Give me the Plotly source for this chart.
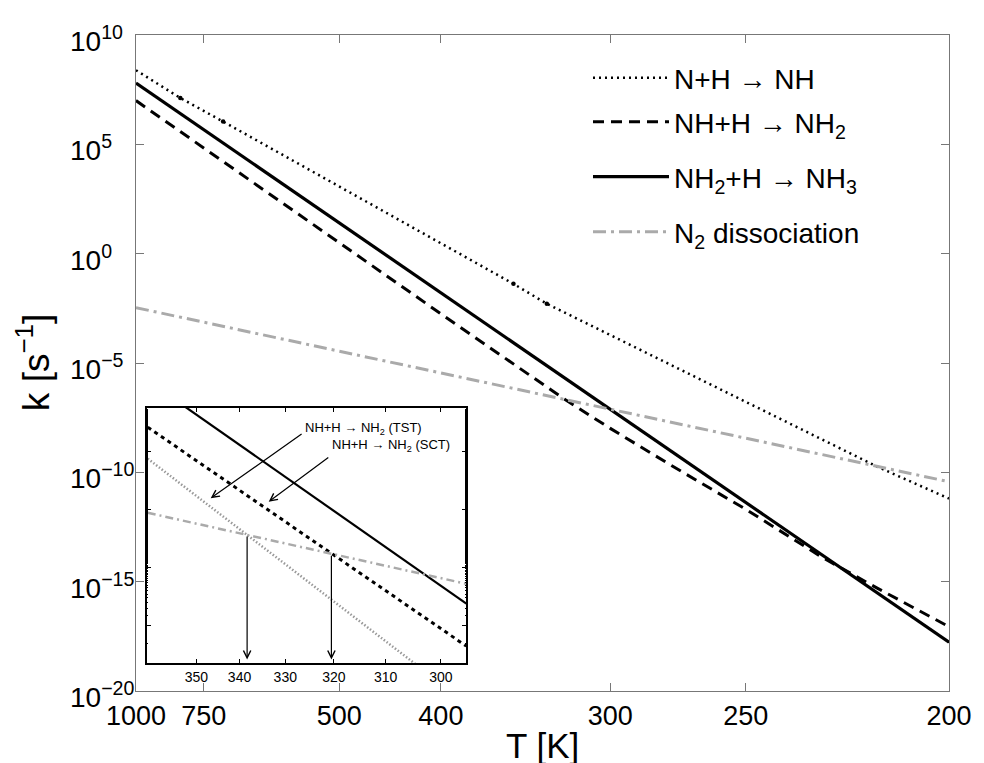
import numpy as np
import plotly.graph_objects as go

# ---------------- main panel data (T in K, log10 k in s^-1) ----------------
T_NH = [1000, 821, 700, 500, 400, 350, 331, 300, 250, 215, 200]
logk_NH = [8.39, 7.12, 6.04, 3.07, 0.47, -1.38, -2.29, -3.72, -6.79, -9.76, -11.2]

T_NH2 = [1000, 750, 500, 400, 322, 300, 275, 250, 228.5, 215, 200]
logk_NH2 = [7.0, 4.83, 0.5, -2.75, -6.64, -7.99, -9.70, -11.69, -13.89, -15.32, -17.06]

T_NH3 = [1000, 750, 500, 400, 300, 250, 200]
logk_NH3 = [7.80, 5.67, 1.41, -1.79, -7.12, -11.38, -17.77]

T_N2 = [1000, 750, 500, 400, 300, 250, 200]
logk_N2 = [-2.47, -3.13, -4.46, -5.46, -7.11, -8.44, -10.43]

T_dots = [821, 700, 350, 331]
logk_dots = [7.12, 6.04, -1.38, -2.29]

# ---------------- inset data ----------------
T_in = [362, 340, 320, 300, 295.6]
logk_in_NH3 = [-3.79, -4.89, -6.03, -7.31, -7.62]
logk_in_SCT = [-4.59, -5.67, -6.79, -8.04, -8.35]
logk_in_TST = [-5.13, -6.34, -7.59, -9.00, -9.33]
logk_in_N2 = [-6.06, -6.41, -6.77, -7.18, -7.28]

T_cross = [338.3, 320.5]
logk_cross = [-6.44, -6.77]

# ---------------- tick labels ----------------
T_ticks = [1000, 750, 500, 400, 300, 250, 200]
T_ticks_in = [350, 340, 330, 320, 310, 300]
y_exps = [10, 5, 0, -5, -10, -15, -20]

def xm(T):
    return 1000.0 / np.asarray(T, dtype=float)

def kv(lk):
    return 10.0 ** np.asarray(lk, dtype=float)

FONT = "Liberation Sans, Arial, Helvetica, sans-serif"
GRAY_AX = "#777777"

fig = go.Figure()

# main traces (each in its own legend box so rows can be placed like the original)
fig.add_trace(go.Scatter(x=xm(T_NH), y=kv(logk_NH), mode="lines", name="N+H → NH",
                         line=dict(color="black", width=2.5, dash="2px,4px"), legend="legend"))
fig.add_trace(go.Scatter(x=xm(T_NH2), y=kv(logk_NH2), mode="lines", name="NH+H → NH<sub>2</sub>",
                         line=dict(color="black", width=3, dash="11px,7px"), legend="legend2"))
fig.add_trace(go.Scatter(x=xm(T_NH3), y=kv(logk_NH3), mode="lines", name="NH<sub>2</sub>+H → NH<sub>3</sub>",
                         line=dict(color="black", width=3.2), legend="legend3"))
fig.add_trace(go.Scatter(x=xm(T_N2), y=kv(logk_N2), mode="lines", name="N<sub>2</sub> dissociation",
                         line=dict(color="#aaaaaa", width=3, dash="13px,5px,3px,5px"), legend="legend4"))
fig.add_trace(go.Scatter(x=xm(T_dots), y=kv(logk_dots), mode="markers", showlegend=False,
                         marker=dict(color="black", size=4.5)))

# inset traces
fig.add_trace(go.Scatter(x=xm(T_in), y=kv(logk_in_NH3), mode="lines", showlegend=False,
                         xaxis="x2", yaxis="y2", line=dict(color="black", width=2.2)))
fig.add_trace(go.Scatter(x=xm(T_in), y=kv(logk_in_SCT), mode="lines", showlegend=False,
                         xaxis="x2", yaxis="y2", line=dict(color="black", width=3, dash="4px,4px")))
fig.add_trace(go.Scatter(x=xm(T_in), y=kv(logk_in_TST), mode="lines", showlegend=False,
                         xaxis="x2", yaxis="y2", line=dict(color="#999999", width=2.5, dash="1.5px,2px")))
fig.add_trace(go.Scatter(x=xm(T_in), y=kv(logk_in_N2), mode="lines", showlegend=False,
                         xaxis="x2", yaxis="y2", line=dict(color="#aaaaaa", width=2.5, dash="8px,4px,2px,4px")))

annotations = []
# y tick labels (left aligned like the original)
for e in y_exps:
    lbl = "10<sup>%s</sup>" % (str(e).replace("-", "\u2212"))
    annotations.append(dict(x=(67 - 136) / 822.0, xref="paper", xanchor="left",
                            y=e, yref="y", yanchor="middle", yshift=-4,
                            text=lbl, showarrow=False, font=dict(size=28, family=FONT, color="black")))
# axis titles
annotations.append(dict(x=0.5, xref="paper", y=(691 - 745) / 656.0, yref="paper",
                        xanchor="center", yanchor="middle", text="T [K]", showarrow=False,
                        font=dict(size=35, family=FONT, color="black")))
annotations.append(dict(x=(32 - 136) / 822.0, xref="paper", y=0.5, yref="paper",
                        xanchor="center", yanchor="middle", text="k [s<sup>\u22121</sup>]", textangle=-90,
                        showarrow=False, font=dict(size=37, family=FONT, color="black")))
# inset labels
annotations.append(dict(x=3.065, xref="x2", y=-4.62, yref="y2", xanchor="left", yanchor="middle",
                        text="NH+H → NH<sub>2</sub> (TST)", showarrow=False,
                        font=dict(size=13, family=FONT, color="black")))
annotations.append(dict(x=3.117, xref="x2", y=-4.90, yref="y2", xanchor="left", yanchor="middle",
                        text="NH+H → NH<sub>2</sub> (SCT)", showarrow=False,
                        font=dict(size=13, family=FONT, color="black")))
# inset arrows
arrow_style = dict(showarrow=True, arrowhead=5, arrowsize=1.2, arrowwidth=1.2, arrowcolor="black",
                   text="", xref="x2", yref="y2", axref="x2", ayref="y2", standoff=0, startstandoff=0)
annotations.append(dict(x=2.885, y=-5.81, ax=3.065, ay=-4.69, **arrow_style))
annotations.append(dict(x=2.998, y=-5.87, ax=3.117, ay=-5.09, **arrow_style))
for Tc, lc in zip(T_cross, logk_cross):
    annotations.append(dict(x=float(xm([Tc])[0]), y=-8.58, ax=float(xm([Tc])[0]), ay=lc, **arrow_style))

def legend_box(y_px):
    return dict(x=(593 - 136) / 822.0, y=(691 - y_px) / 656.0, xanchor="left", yanchor="middle",
                bgcolor="rgba(0,0,0,0)", borderwidth=0,
                font=dict(size=28, family=FONT, color="black"), itemwidth=76)

fig.update_layout(
    width=984, height=763,
    margin=dict(l=136, r=26, t=35, b=72),
    paper_bgcolor="white", plot_bgcolor="white",
    font=dict(family=FONT, color="black"),
    showlegend=True,
    legend=legend_box(78),
    legend2=legend_box(122),
    legend3=legend_box(177),
    legend4=legend_box(232),
    xaxis=dict(range=[1, 5], tickvals=xm(T_ticks), ticktext=[str(t) for t in T_ticks],
               ticks="inside", ticklen=8, tickcolor=GRAY_AX, showline=True, linecolor=GRAY_AX,
               linewidth=1, mirror="ticks", showgrid=False, zeroline=False,
               tickfont=dict(size=27, family=FONT, color="black"), ticklabelstandoff=1),
    yaxis=dict(type="log", range=[-20, 10], tickvals=[10.0 ** e for e in y_exps],
               showticklabels=False, ticks="inside", ticklen=8, tickcolor=GRAY_AX,
               showline=True, linecolor=GRAY_AX, linewidth=1, mirror="ticks",
               showgrid=False, zeroline=False),
    xaxis2=dict(domain=[(146.7 - 136) / 822.0, (470 - 136) / 822.0], anchor="y2",
                range=[float(xm([362.3])[0]), float(xm([295.6])[0])],
                tickvals=xm(T_ticks_in), ticktext=[str(t) for t in T_ticks_in],
                ticks="inside", ticklen=4, tickcolor="black", showline=True, linecolor="black",
                linewidth=1.5, mirror="ticks", showgrid=False, zeroline=False,
                tickfont=dict(size=14, family=FONT, color="black")),
    yaxis2=dict(domain=[(691 - 663) / 656.0, (691 - 408) / 656.0], anchor="x2", type="log",
                range=[-8.64, -4.26], tickvals=[1e-5, 1e-6, 1e-7, 1e-8], showticklabels=False,
                ticks="inside", ticklen=5, tickcolor="black", showline=True, linecolor="black",
                linewidth=1.5, mirror="ticks", showgrid=False, zeroline=False,
                minor=dict(ticks="inside", ticklen=2, tickcolor="black", showgrid=False)),
    annotations=annotations,
)

# remove the default page margin so the 984x763 figure fills the window exactly
fig.write_html("out.html", config={"displayModeBar": False},
               post_script="document.body.style.margin='0px';document.body.style.padding='0px';"
                           "document.documentElement.style.overflow='hidden';")
